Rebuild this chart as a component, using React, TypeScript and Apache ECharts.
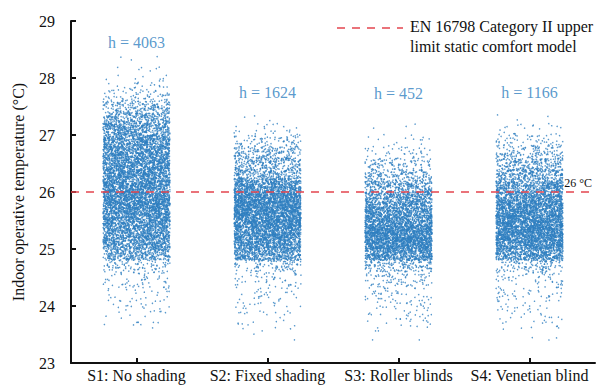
import React, { useEffect, useRef } from "react";
import * as echarts from "echarts";

// Categories (shading strategies)
const categories = ["S1: No shading", "S2: Fixed shading", "S3: Roller blinds", "S4: Venetian blind"];
// Hours above limit labels
const hLabels = ["h = 4063", "h = 1624", "h = 452", "h = 1166"];
// Label heights (°C) above each strip
const hLabelY = [28.63, 27.74, 27.72, 27.74];

// Temperature bins (lower edge, °C), width 0.2 °C
const binStart = 23.4;
const binWidth = 0.2;
// Number of hourly points read per bin (23.4, 23.6, ... 28.2)
const s1Counts = [0, 10, 16, 22, 30, 40, 80, 330, 500, 540, 620, 720, 740, 690, 620, 600, 580, 520, 420, 300, 170, 65, 24, 9, 3];
const s2Counts = [3, 12, 16, 22, 28, 38, 90, 460, 630, 710, 790, 830, 790, 580, 310, 230, 160, 75, 22, 3, 0, 0, 0, 0, 0];
const s3Counts = [4, 18, 26, 32, 44, 64, 150, 580, 870, 830, 660, 540, 450, 290, 160, 90, 36, 13, 4, 0, 0, 0, 0, 0, 0];
const s4Counts = [4, 16, 22, 26, 32, 44, 110, 500, 750, 830, 800, 700, 580, 450, 300, 200, 115, 60, 20, 3, 0, 0, 0, 0, 0];
const allCounts = [s1Counts, s2Counts, s3Counts, s4Counts];

const limitTemp = 26;

const FONT = "Liberation Serif";
const BLUE = "#2f80c0";
const RED = "#e4454f";

function scatterPos(n: number, seed: number): number {
  // deterministic placement of a point inside its bin / strip
  const v = Math.sin(n * 12.9898 + seed * 78.233) * 43758.5453;
  return v - Math.floor(v);
}

function expand(counts: number[], cat: number): number[][] {
  const pts: number[][] = [];
  let n = 0;
  counts.forEach((c, b) => {
    const lo = binStart + b * binWidth;
    for (let k = 0; k < c; k++) {
      n++;
      const fx = scatterPos(n, cat * 2 + 1);
      const fy = scatterPos(n, cat * 2 + 2);
      pts.push([cat + (fx - 0.5) * 0.51, lo + fy * binWidth]);
    }
  });
  return pts;
}

export default function App() {
  const ref = useRef<HTMLDivElement>(null);
  useEffect(() => {
    if (!ref.current) return;
    const chart = echarts.init(ref.current, null, { renderer: "svg" });
    const scatterSeries = allCounts.map((c, i) => ({
      type: "scatter",
      xAxisIndex: 1,
      yAxisIndex: 0,
      silent: true,
      symbol: "circle",
      symbolSize: 1.5,
      itemStyle: { color: BLUE, opacity: 0.8 },
      data: expand(c, i),
      z: 2,
    }));
    chart.setOption({
      animation: false,
      textStyle: { fontFamily: FONT },
      grid: { left: 71, right: 15, top: 21, bottom: 22, containLabel: false },
      xAxis: [
        {
          type: "category",
          data: categories,
          boundaryGap: true,
          axisLine: { show: true, onZero: false, lineStyle: { color: "#111", width: 2 } },
          axisTick: { show: true, inside: true, alignWithLabel: true, length: 5, lineStyle: { color: "#111", width: 2 } },
          axisLabel: { color: "#111", fontFamily: FONT, fontSize: 16, margin: 4, interval: 0 },
          splitLine: { show: false },
        },
        {
          type: "value",
          min: -0.5,
          max: 3.5,
          show: false,
          splitLine: { show: false },
        },
      ],
      yAxis: {
        type: "value",
        min: 23,
        max: 29,
        interval: 1,
        name: "Indoor operative temperature (°C)",
        nameLocation: "middle",
        nameGap: 45,
        nameRotate: 90,
        nameTextStyle: { color: "#111", fontFamily: FONT, fontSize: 16 },
        axisLine: { show: true, onZero: false, lineStyle: { color: "#111", width: 2 } },
        axisTick: { show: true, inside: true, length: 5, lineStyle: { color: "#111", width: 2 } },
        axisLabel: { color: "#111", fontFamily: FONT, fontSize: 16, margin: 16 },
        splitLine: { show: false },
      },
      series: [
        ...scatterSeries,
        {
          type: "scatter",
          xAxisIndex: 1,
          yAxisIndex: 0,
          silent: true,
          symbolSize: 0,
          data: hLabelY.map((y, i) => [i, y]),
          label: {
            show: true,
            position: "inside",
            formatter: (p: any) => hLabels[p.dataIndex],
            color: BLUE,
            fontFamily: FONT,
            fontSize: 16,
          },
          z: 5,
        },
        {
          type: "line",
          xAxisIndex: 1,
          yAxisIndex: 0,
          data: [],
          silent: true,
          markLine: {
            silent: true,
            symbol: ["none", "none"],
            lineStyle: { color: RED, type: [8, 7], width: 1.5 },
            label: {
              show: true,
              position: "insideEndTop",
              formatter: "26 °C",
              color: "#111",
              fontFamily: FONT,
              fontSize: 12,
              distance: 3,
            },
            data: [{ yAxis: limitTemp }],
          },
          z: 6,
        },
      ],
      graphic: [
        {
          type: "line",
          shape: { x1: 337, y1: 28, x2: 403, y2: 28 },
          style: { stroke: RED, lineWidth: 1.5, lineDash: [8, 7] },
        },
        {
          type: "text",
          x: 410,
          y: 16,
          style: {
            text: "EN 16798 Category II upper\nlimit static comfort model",
            fill: "#111",
            font: `16px ${FONT}`,
            lineHeight: 20,
          },
        },
      ],
    });
    return () => chart.dispose();
  }, []);
  return <div ref={ref} style={{ width: 610, height: 385, position: "absolute", left: 0, top: 0, background: "#fff" }} />;
}
